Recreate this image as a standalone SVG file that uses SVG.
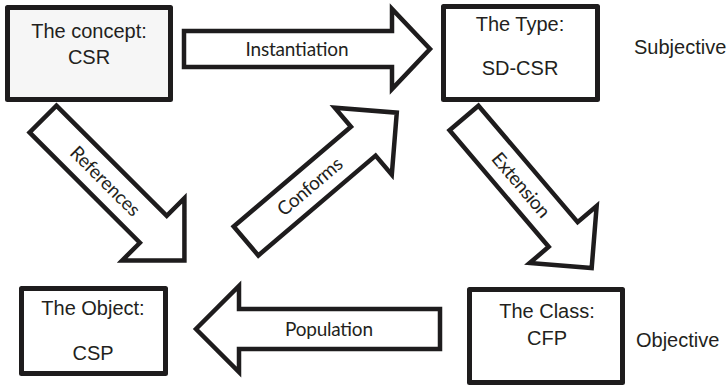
<svg xmlns="http://www.w3.org/2000/svg" width="728" height="387" viewBox="0 0 728 387">
<style>
.box{fill:#ffffff;stroke:#1e1c1d;stroke-width:5;stroke-linejoin:round}
.arr{fill:#ffffff;stroke:#1e1c1d;stroke-width:4.5;stroke-linejoin:miter;stroke-miterlimit:10}
.t{font-family:"Liberation Sans",Arial,sans-serif;font-size:20px;fill:#231f20;text-anchor:middle}
.s{font-family:"Liberation Sans",Arial,sans-serif;font-size:20px;fill:#231f20}
.a{font-family:Lato,"Open Sans",sans-serif;font-size:19px;fill:#231f20;text-anchor:middle}
</style>
<g id="connectors">
  <g id="instantiation" transform="translate(184,49)">
    <polygon class="arr" points="0,-18 208,-18 208,-40 246,0 208,40 208,18 0,18"/>
    <text class="a" x="113" y="6.5" textLength="103">Instantiation</text>
  </g>
  <g id="references" transform="translate(43,119) rotate(45)">
    <polygon class="arr" points="0,-19 156,-19 156,-44 200,0 156,44 156,19 0,19"/>
    <text class="a" x="88" y="6.5" textLength="90">References</text>
  </g>
  <g id="conforms" transform="translate(246,241) rotate(-40.4)">
    <polygon class="arr" points="0,-19 154,-19 154,-44 198,0 154,44 154,19 0,19"/>
    <text class="a" x="84" y="6.5" textLength="79">Conforms</text>
  </g>
  <g id="extension" transform="translate(464,118) rotate(49.6)">
    <polygon class="arr" points="0,-19 153,-19 153,-44 197,0 153,44 153,19 0,19"/>
    <text class="a" x="88" y="6.5" textLength="79">Extension</text>
  </g>
  <g id="population">
    <polygon class="arr" points="440,309 239,309 239,286 196,329 239,372 239,349 440,349"/>
    <text class="a" x="329" y="336" textLength="88">Population</text>
  </g>
</g>
<g id="concept">
  <rect class="box" x="7.5" y="7.5" width="163" height="92" style="fill:#f6f6f6"/>
  <text class="t" x="89" y="38">The concept:</text>
  <text class="t" x="89" y="64">CSR</text>
</g>
<g id="type">
  <rect class="box" x="443.5" y="6.5" width="154" height="93"/>
  <text class="t" x="520" y="31">The Type:</text>
  <text class="t" x="520" y="75">SD-CSR</text>
</g>
<g id="object">
  <rect class="box" x="21.5" y="288.5" width="144" height="85"/>
  <text class="t" x="93" y="315">The Object:</text>
  <text class="t" x="93" y="360">CSP</text>
</g>
<g id="class">
  <rect class="box" x="469.5" y="289.5" width="153" height="93"/>
  <text class="t" x="547" y="318">The Class:</text>
  <text class="t" x="547" y="345">CFP</text>
</g>
<g id="labels">
  <text class="s" x="634" y="54">Subjective</text>
  <text class="s" x="636" y="347">Objective</text>
</g>
</svg>
